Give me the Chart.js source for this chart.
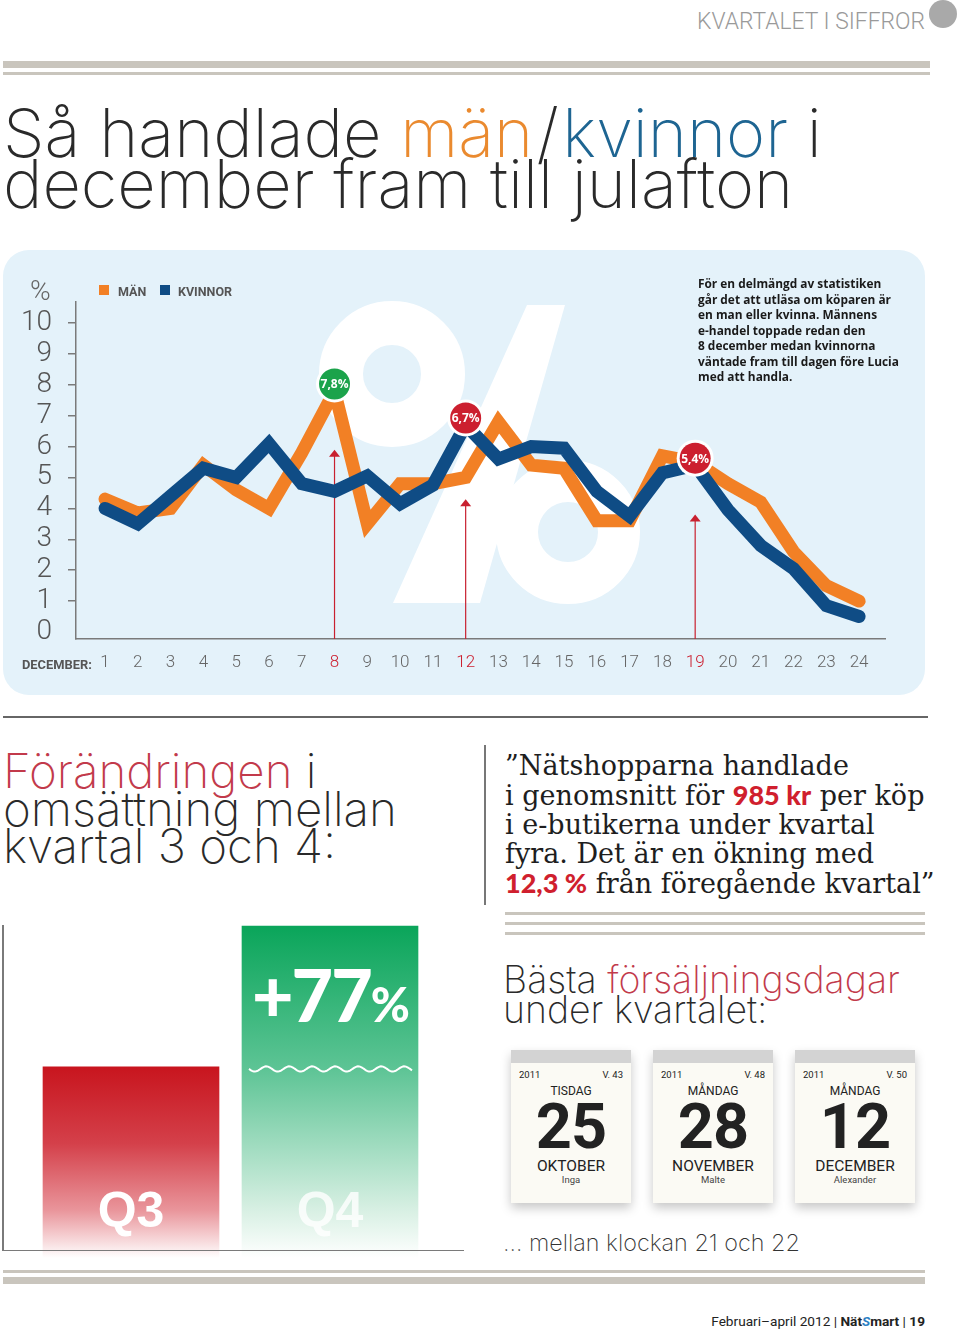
<!DOCTYPE html>
<html><head><meta charset="utf-8">
<script src="https://cdn.jsdelivr.net/npm/chart.js@4.4.1/dist/chart.umd.min.js"></script>
<style>
html,body{margin:0;padding:0;background:#fff;}
#page{position:relative;width:960px;height:1333px;overflow:hidden;background:#fff;}
.abs{position:absolute;}
.t{position:absolute;left:0;top:0;white-space:nowrap;}
.ln{display:block;width:max-content;white-space:nowrap;}
.thin{font-family:Inter,'Open Sans',sans-serif;font-weight:200;color:#2a2a2a;}
.red2{color:#C23A4B;}
.rb{font-family:Lato,sans-serif;font-weight:900;color:#D01F2E;}
.bar{position:absolute;background:#C9C5BD;}
.card{position:absolute;width:120px;height:153px;background:#FBFAF4;box-shadow:0 5px 10px rgba(0,0,0,0.22);font-family:Roboto,sans-serif;color:#222;}
.card .strip{position:absolute;left:0;top:0;width:120px;height:13px;background:#D3D3D3;}
.card .yr{position:absolute;left:8px;top:19px;font-size:9.5px;line-height:11px;}
.card .wk{position:absolute;right:8px;top:19px;font-size:9.5px;line-height:11px;}
.card .dn{position:absolute;left:0;right:0;top:35px;text-align:center;font-size:12px;line-height:12px;}
.card .num{position:absolute;left:0;right:0;top:45px;text-align:center;font-size:63px;line-height:63px;font-weight:700;letter-spacing:-1px;}
.card .mo{position:absolute;left:0;right:0;top:108px;text-align:center;font-size:15.5px;line-height:16px;}
.card .nm{position:absolute;left:0;right:0;top:124px;text-align:center;font-size:9.5px;line-height:11px;color:#444;}
</style>
</head>
<body>
<div id="page">
  <!-- header -->
  <div class="t" data-base="29" data-right="925" data-sx="228" style="font-family:Roboto,sans-serif;font-weight:300;font-size:24px;color:#9a9a9a;"><span class="ln">KVARTALET I SIFFROR</span></div>
  <div class="abs" style="left:929px;top:0px;width:28px;height:28px;border-radius:50%;background:#A9A9A9;"></div>
  <div class="bar" style="left:3px;top:61px;width:927px;height:7px;"></div>
  <div class="bar" style="left:3px;top:72px;width:927px;height:3px;"></div>

  <!-- title -->
  <div class="t thin" data-base="157" data-fit="819" style="left:3px;font-size:68px;line-height:51px;">
    <span class="ln">Så handlade <span style="color:#EA8A2F">män</span><span style="margin:0 0.05em;">/</span><span style="color:#1E6592">kvinnor</span> i</span>
    <span class="ln">december fram till julafton</span>
  </div>

  <!-- chart panel -->
  <div class="abs" style="left:3px;top:250px;width:922px;height:445px;border-radius:26px;background:#E4F2FA;"></div>
  <svg class="abs" style="left:0;top:0;" width="960" height="700">
    <circle cx="392" cy="374" r="51" fill="none" stroke="#fff" stroke-width="44"/>
    <circle cx="568" cy="532" r="51" fill="none" stroke="#fff" stroke-width="42"/>
    <polygon points="393,603 480,603 565,305 527,305" fill="#fff"/>
  </svg>
  <canvas id="lineChart" class="abs" style="left:0;top:250px;" width="930" height="445"></canvas>

  <div class="abs" style="left:99px;top:285px;width:10px;height:10px;background:#F28025;"></div>
  <div class="t" data-base="296" style="left:118px;font-family:Roboto,sans-serif;font-weight:700;font-size:12.5px;color:#555;"><span class="ln">MÄN</span></div>
  <div class="abs" style="left:160px;top:285px;width:10px;height:10px;background:#0F4C85;"></div>
  <div class="t" data-base="296" style="left:178px;font-family:Roboto,sans-serif;font-weight:700;font-size:12.5px;color:#555;"><span class="ln">KVINNOR</span></div>
  <div class="t" data-base="300" style="left:30px;font-family:Roboto,sans-serif;font-weight:300;font-size:28px;color:#666;"><span class="ln">%</span></div>
  <div class="t" data-base="669" data-fit="70" style="left:22px;font-family:Roboto,sans-serif;font-weight:700;font-size:13px;color:#555;"><span class="ln">DECEMBER:</span></div>

  <div class="t" data-base="288" data-fit="201" style="left:698px;font-family:'Open Sans',sans-serif;font-weight:700;font-size:12.5px;line-height:15.5px;color:#1a1a1a;">
    <span class="ln">För en delmängd av statistiken</span>
    <span class="ln">går det att utläsa om köparen är</span>
    <span class="ln">en man eller kvinna. Männens</span>
    <span class="ln">e-handel toppade redan den</span>
    <span class="ln">8 december medan kvinnorna</span>
    <span class="ln">väntade fram till dagen före Lucia</span>
    <span class="ln">med att handla.</span>
  </div>

  <div class="abs" style="left:3px;top:716px;width:925px;height:2px;background:#666;"></div>

  <!-- lower left -->
  <div class="t thin" data-base="788" data-fit="394" style="left:3px;font-size:44px;line-height:37.5px;">
    <span class="ln"><span class="red2">Förändringen</span> i</span>
    <span class="ln">omsättning mellan</span>
    <span class="ln">kvartal 3 och 4:</span>
  </div>
  <div class="abs" style="left:484px;top:745px;width:1.5px;height:160px;background:#777;"></div>

  <!-- quote -->
  <div class="t" data-base="775" data-fit="430" style="left:505px;font-family:'DejaVu Serif',serif;font-size:26px;line-height:29px;color:#1e1e1e;">
    <span class="ln">”Nätshopparna handlade</span>
    <span class="ln">i genomsnitt för <span class="rb">985 kr</span> per köp</span>
    <span class="ln">i e-butikerna under kvartal</span>
    <span class="ln">fyra. Det är en ökning med</span>
    <span class="ln"><span class="rb">12,3 %</span> från föregående kvartal”</span>
  </div>
  <div class="bar" style="left:505px;top:912px;width:420px;height:3px;"></div>
  <div class="bar" style="left:505px;top:922px;width:420px;height:3px;"></div>
  <div class="bar" style="left:505px;top:932px;width:420px;height:3px;"></div>

  <!-- bar chart -->
  <canvas id="barChart" class="abs" style="left:0;top:900px;" width="470" height="370"></canvas>
  <div class="abs" style="left:2px;top:925px;width:1.5px;height:326px;background:#7a7a7a;"></div>
  <div class="abs" style="left:2px;top:1249.5px;width:462px;height:1.5px;background:#7a7a7a;"></div>
  <div class="t" data-base="1022" data-fit="156" style="left:252px;font-family:Lato,sans-serif;font-weight:900;font-size:72px;color:#fff;letter-spacing:-2px;"><span class="ln">+77<span style="font-size:0.66em;">%</span></span></div>
  <div class="t" data-base="1227" data-center="131" style="font-family:'Liberation Sans',Arial,sans-serif;font-weight:700;font-size:50px;color:#fff;"><span class="ln">Q3</span></div>
  <div class="t" data-base="1227" data-center="330" style="font-family:'Liberation Sans',Arial,sans-serif;font-weight:700;font-size:50px;color:rgba(255,255,255,0.8);"><span class="ln">Q4</span></div>

  <!-- best days -->
  <div class="t thin" data-base="993" data-fit="397" style="left:503px;font-size:40px;line-height:30px;">
    <span class="ln">Bästa <span class="red2">försäljningsdagar</span></span>
    <span class="ln">under kvartalet:</span>
  </div>
  <div id="cards"></div>
  <div class="t thin" data-base="1251" data-fit="297" style="left:503px;font-size:28px;line-height:30px;color:#333;"><span class="ln">… mellan klockan 21 och 22</span></div>

  <div class="bar" style="left:3px;top:1270px;width:922px;height:2.5px;"></div>
  <div class="bar" style="left:3px;top:1277px;width:922px;height:7px;"></div>

  <div class="t" data-base="1326" data-right="925" data-fit="214" style="font-family:Roboto,sans-serif;font-size:14px;color:#222;"><span class="ln">Februari–april 2012 | <b>Nät<span style="color:#2B7FC3;font-style:italic;">S</span>mart</b> | <b>19</b></span></div>
</div>

<script>
// ---------- data ----------
const days = [1,2,3,4,5,6,7,8,9,10,11,12,13,14,15,16,17,18,19,20,21,22,23,24];
const men = [4.3,3.85,4.0,5.4,4.6,4.0,5.8,7.8,3.5,4.8,4.8,5.0,6.8,5.4,5.3,3.6,3.6,5.7,5.5,4.8,4.2,2.6,1.5,1.0];
const women = [4.0,3.5,4.4,5.3,5.0,6.1,4.8,4.55,5.05,4.15,4.75,6.7,5.6,6.0,5.95,4.55,3.75,5.15,5.4,3.95,2.8,2.05,0.85,0.5];
const yTicks = [0,1,2,3,4,5,6,7,8,9,10];
const highlightDays = [8,12,19];
const calloutValues = [7.8,6.7,5.4];
const calloutLabels = ['7,8%','6,7%','5,4%'];
const arrowTips = [5.9,4.3,3.8];
const quarters = ['Q3','Q4'];
const turnover = [100,177];
const cardYear = ['2011','2011','2011'];
const cardWeek = ['V. 43','V. 48','V. 50'];
const cardWeekday = ['TISDAG','MÅNDAG','MÅNDAG'];
const cardDate = ['25','28','12'];
const cardMonth = ['OKTOBER','NOVEMBER','DECEMBER'];
const cardName = ['Inga','Malte','Alexander'];

// ---------- styles ----------
const ORANGE = '#F28025', BLUE = '#0F4C85', GREEN = '#1BA34B', RED = '#CC1F2F', ARROW = '#C8202F';
const calloutColors = [GREEN, RED, RED];
const barStops = [
  [[0,'#C8151E'],[0.4,'#D4404A'],[0.75,'#E9959B'],[1,'rgba(255,255,255,1)']],
  [[0,'#0AA55A'],[0.43,'#5DC495'],[0.85,'#D6EFE2'],[1,'rgba(255,255,255,1)']]
];

// ---------- calendar cards ----------
const cardLeft = [511,653,795];
const cardsEl = document.getElementById('cards');
cardDate.forEach((d,i)=>{
  const c = document.createElement('div');
  c.className = 'card';
  c.style.left = cardLeft[i]+'px'; c.style.top = '1050px';
  c.innerHTML = '<div class="strip"></div><div class="yr">'+cardYear[i]+'</div><div class="wk">'+cardWeek[i]+'</div>'+
    '<div class="dn">'+cardWeekday[i]+'</div><div class="num">'+d+'</div><div class="mo">'+cardMonth[i]+'</div><div class="nm">'+cardName[i]+'</div>';
  cardsEl.appendChild(c);
});

// ---------- text placement ----------
function layoutText(){
  const pageTop = document.getElementById('page').getBoundingClientRect().top;
  document.querySelectorAll('[data-base]').forEach(el=>{
    const lines = [...el.querySelectorAll('.ln')];
    const widest = ()=>Math.max(...lines.map(l=>l.getBoundingClientRect().width));
    if(el.dataset.fit){
      const fs = parseFloat(getComputedStyle(el).fontSize);
      el.style.fontSize = (fs*(+el.dataset.fit)/widest())+'px';
    }
    let w = widest();
    if(el.dataset.sx){
      el.style.transformOrigin = '0 0';
      el.style.transform = 'scaleX('+((+el.dataset.sx)/w)+')';
      w = +el.dataset.sx;
    }
    if(el.dataset.right) el.style.left = (+el.dataset.right - w)+'px';
    if(el.dataset.center) el.style.left = (+el.dataset.center - w/2)+'px';
    const mk = document.createElement('span');
    mk.style.cssText = 'display:inline-block;width:0;height:0;';
    lines[0].insertBefore(mk, lines[0].firstChild);
    const top = mk.getBoundingClientRect().top - pageTop;
    mk.remove();
    el.style.top = (parseFloat(el.style.top||0) + (+el.dataset.base) - top)+'px';
  });
}
layoutText();

// ---------- line chart ----------
const calloutPlugin = {
  id:'callouts',
  beforeDatasetsDraw(chart){
    const {ctx, scales:{x,y}, chartArea} = chart;
    ctx.save();
    ctx.strokeStyle = ARROW; ctx.fillStyle = ARROW; ctx.lineWidth = 1.2;
    highlightDays.forEach((d,i)=>{
      const px = x.getPixelForValue(d), top = y.getPixelForValue(arrowTips[i]);
      ctx.beginPath(); ctx.moveTo(px, chartArea.bottom); ctx.lineTo(px, top+5); ctx.stroke();
      ctx.beginPath(); ctx.moveTo(px, top); ctx.lineTo(px-5.5, top+7); ctx.lineTo(px+5.5, top+7); ctx.closePath(); ctx.fill();
    });
    ctx.restore();
  },
  afterDatasetsDraw(chart){
    const {ctx, scales:{x,y}} = chart;
    ctx.save();
    highlightDays.forEach((d,i)=>{
      const px = x.getPixelForValue(d), py = y.getPixelForValue(calloutValues[i]) - 7;
      ctx.beginPath(); ctx.arc(px, py, 18.5, 0, Math.PI*2); ctx.fillStyle = '#fff'; ctx.fill();
      ctx.beginPath(); ctx.arc(px, py, 15.5, 0, Math.PI*2); ctx.fillStyle = calloutColors[i]; ctx.fill();
      ctx.fillStyle = '#fff'; ctx.font = '700 12px "Open Sans", sans-serif';
      ctx.textAlign = 'center'; ctx.textBaseline = 'middle';
      ctx.fillText(calloutLabels[i], px, py+1);
    });
    ctx.restore();
  }
};

new Chart(document.getElementById('lineChart'), {
  type:'line',
  data:{datasets:[
    {label:'KVINNOR', data: days.map((d,i)=>({x:d, y:women[i]})), borderColor:BLUE, borderWidth:13, pointRadius:0, tension:0, borderJoinStyle:'miter', borderCapStyle:'round', fill:false},
    {label:'MÄN', data: days.map((d,i)=>({x:d, y:men[i]})), borderColor:ORANGE, borderWidth:13, pointRadius:0, tension:0, borderJoinStyle:'miter', borderCapStyle:'round', fill:false}
  ]},
  options:{
    responsive:false, animation:false, devicePixelRatio:1,
    layout:{padding:{top:52, right:45, left:0, bottom:0}},
    plugins:{legend:{display:false}, tooltip:{enabled:false}},
    scales:{
      x:{type:'linear', min:0.115, max:24.79,
        afterBuildTicks:(a)=>{a.ticks = days.map(v=>({value:v}));},
        afterFit:(s)=>{s.height = 56;},
        ticks:{autoSkip:false, maxRotation:0, padding:14, callback:(v)=>String(v),
          color:(c)=> highlightDays.includes(c.tick && c.tick.value) ? RED : '#666',
          font:{family:'Roboto', size:17, weight:'300'}},
        grid:{display:false, drawTicks:false},
        border:{display:true, color:'#7a7a7a', width:1.5}
      },
      y:{min:-0.227, max:10.68,
        afterBuildTicks:(a)=>{a.ticks = yTicks.map(v=>({value:v}));},
        afterFit:(s)=>{s.width = 76;},
        ticks:{autoSkip:false, padding:16, callback:(v)=>String(v), color:'#555', font:{family:'Roboto', size:28, weight:'300'}},
        grid:{display:true, drawOnChartArea:false, drawTicks:true, tickLength:8, lineWidth:1.5,
          color:(c)=> (c.tick && c.tick.value === 0) ? 'rgba(0,0,0,0)' : '#7a7a7a'},
        border:{display:true, color:'#7a7a7a', width:1.5}
      }
    }
  },
  plugins:[calloutPlugin]
});

// ---------- bar chart ----------
const wavePlugin = {
  id:'wave',
  afterDatasetsDraw(chart){
    const {ctx, scales:{y}} = chart;
    const bar = chart.getDatasetMeta(0).data[1];
    const left = bar.x - bar.width/2 + 7, right = bar.x + bar.width/2 - 6;
    const yy = y.getPixelForValue(turnover[0]) + 2;
    ctx.save(); ctx.strokeStyle = '#fff'; ctx.lineWidth = 2; ctx.beginPath();
    for(let px=left; px<=right; px+=1){
      const py = yy + 2.6*Math.sin((px-left)/23*Math.PI*2);
      if(px===left) ctx.moveTo(px,py); else ctx.lineTo(px,py);
    }
    ctx.stroke(); ctx.restore();
  }
};

new Chart(document.getElementById('barChart'), {
  type:'bar',
  data:{labels:quarters, datasets:[{
    data:turnover, barThickness:176, base:-4.4, borderWidth:0,
    backgroundColor:(c)=>{
      const chart = c.chart, ys = chart.scales.y;
      const stops = barStops[c.dataIndex] || barStops[0];
      if(!ys || !chart.chartArea) return stops[0][1];
      const top = ys.getPixelForValue(turnover[c.dataIndex]);
      const g = chart.ctx.createLinearGradient(0, top, 0, chart.chartArea.bottom);
      stops.forEach(([o,col])=>g.addColorStop(o,col));
      return g;
    }
  }]},
  options:{
    responsive:false, animation:false, devicePixelRatio:1,
    layout:{padding:{top:24.2, bottom:12, left:31.5, right:40.5}},
    plugins:{legend:{display:false}, tooltip:{enabled:false}},
    scales:{x:{display:false}, y:{display:false, min:-4.4, max:178}}
  },
  plugins:[wavePlugin]
});
</script>
</body></html>
